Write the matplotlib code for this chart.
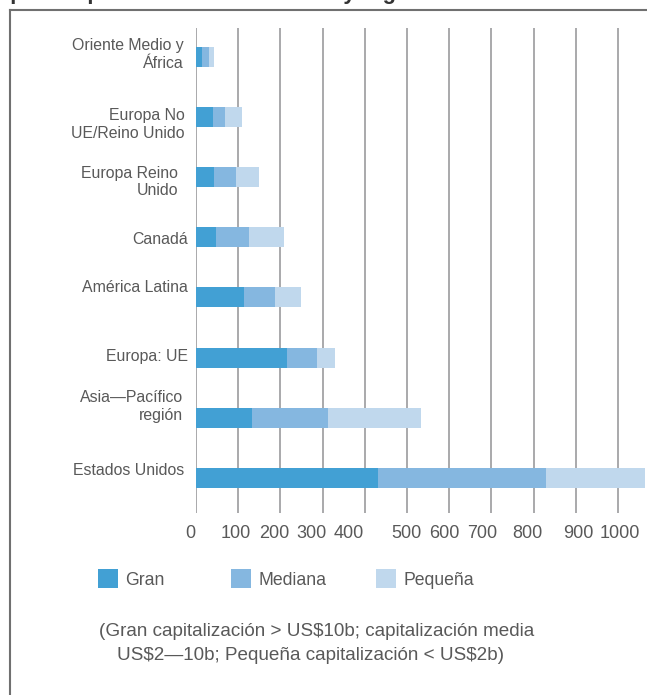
import numpy as np
import matplotlib.pyplot as plt
from matplotlib.lines import Line2D
from matplotlib.transforms import ScaledTranslation

plt.rcParams['font.family'] = ['Liberation Sans', 'DejaVu Sans']

# Datos (de arriba hacia abajo, como en la imagen)
regiones = ['Oriente Medio y\nÁfrica', 'Europa No\nUE/Reino Unido', 'Europa Reino\nUnido',
            'Canadá', 'América Latina', 'Europa: UE', 'Asia—Pacífico\nregión', 'Estados Unidos']
gran = [15, 40, 42, 47, 114, 216, 133, 432]
mediana = [16, 28, 53, 78, 74, 71, 180, 398]
pequena = [11, 40, 54, 83, 62, 43, 220, 235]
ticks_x = [0, 100, 200, 300, 400, 500, 600, 700, 800, 900, 1000]
series = ['Gran', 'Mediana', 'Pequeña']

colores = ['#42A0D4', '#85B7E0', '#C0D8ED']
gris_texto = '#595959'

W, H = 647, 695
fig = plt.figure(figsize=(W / 100, H / 100), dpi=100)

# titulo cortado en la parte superior
fig.text(-24 / W, 1 + 1 / H, 'Empresas por tamaño de mercado y región', fontsize=15.8,
         fontweight='bold', color='#333333', ha='left', va='baseline')

# marco gris
fig.add_artist(Line2D([10 / W, 1], [1 - 10 / H, 1 - 10 / H], color='#707070', lw=1.5))
fig.add_artist(Line2D([10 / W, 10 / W], [0, 1 - 10 / H], color='#707070', lw=1.5))

ax = fig.add_axes([196 / W, 1 - 513 / H, (W - 196) / W, (513 - 28) / H])

y = np.arange(len(regiones))[::-1]
gran = np.array(gran)
mediana = np.array(mediana)
pequena = np.array(pequena)

b1 = ax.barh(y, gran, height=0.333, color=colores[0], label=series[0])
b2 = ax.barh(y, mediana, left=gran, height=0.333, color=colores[1], label=series[1])
b3 = ax.barh(y, pequena, left=gran + mediana, height=0.333, color=colores[2], label=series[2])

ax.set_xlim(0, 1069)
ax.set_ylim(-0.583, 7.478)
ax.set_xticks(ticks_x)
ax.set_xticklabels([str(t) for t in ticks_x], fontsize=13, color=gris_texto)
ax.set_yticks(y)
ax.set_yticklabels(regiones, fontsize=11.4, color=gris_texto, linespacing=1.2)
ax.tick_params(length=0)
ax.tick_params(axis='x', pad=9)
ax.tick_params(axis='y', pad=5.8)
ax.grid(axis='x', color='#ABABAD', lw=1.44)
ax.set_axisbelow(True)
for s in ax.spines.values():
    s.set_visible(False)

# ajuste fino de las etiquetas (pixeles), como en el original
desplaz_y = [(-4, 5), (-3, -5), (-10, -2), (0, -1), (0, 11), (0, 3), (-5, 14), (-4, 9)]
for lbl, (dx, dy) in zip(ax.get_yticklabels(), desplaz_y):
    lbl.set_transform(lbl.get_transform() + ScaledTranslation(dx / 100, dy / 100, fig.dpi_scale_trans))
desplaz_x = [-6, -2, -6, -11, -16, -1, -5, -9, -6, 3, 2]
for lbl, dx in zip(ax.get_xticklabels(), desplaz_x):
    lbl.set_transform(lbl.get_transform() + ScaledTranslation(dx / 100, 0, fig.dpi_scale_trans))

# leyenda: una entrada por serie, en columnas de ancho fijo
for barra, nombre, x_px in zip([b1, b2, b3], series, [98, 231, 376]):
    leg = fig.legend(handles=[barra], labels=[nombre], loc='center left',
                     bbox_to_anchor=(x_px / W, 1 - 579 / H), frameon=False,
                     fontsize=12.7, handlelength=1.14, handleheight=1.25, handletextpad=0.4,
                     borderpad=0, borderaxespad=0)
    for t in leg.get_texts():
        t.set_color(gris_texto)

fig.text(99 / W, 1 - 631 / H, '(Gran capitalización > US\\$10b; capitalización media',
         fontsize=13.6, color=gris_texto, ha='left', va='center')
fig.text(117 / W, 1 - 656 / H, 'US\\$2—10b; Pequeña capitalización < US\\$2b)',
         fontsize=13.6, color=gris_texto, ha='left', va='center')

fig.savefig('out.png', dpi=100)
